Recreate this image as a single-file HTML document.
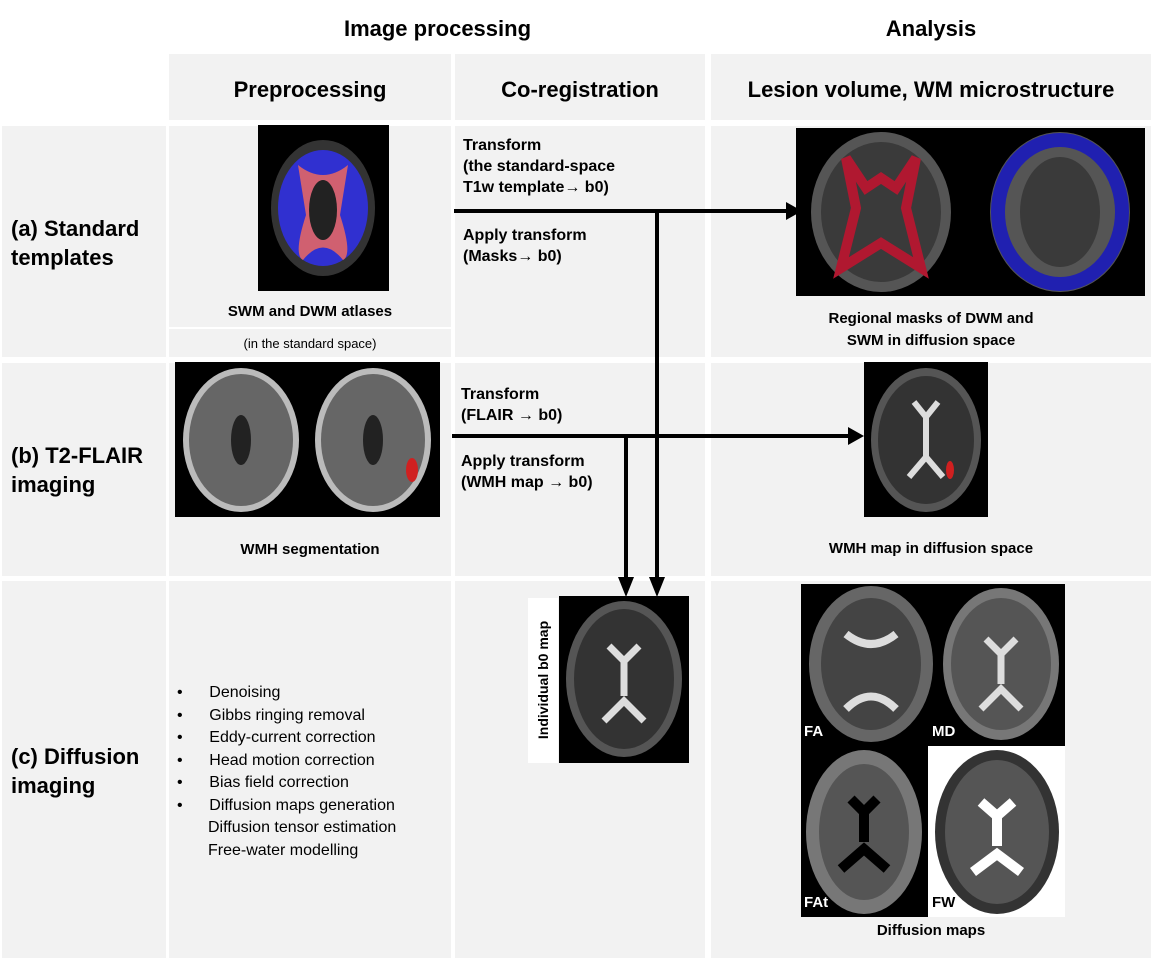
<!DOCTYPE html>
<html><head><meta charset="utf-8"><style>
body{margin:0;width:1158px;height:966px;background:#fff;position:relative;overflow:hidden;font-family:"Liberation Sans",Arial,sans-serif;color:#000}
.c{position:absolute;background:#f2f2f2}
.t{position:absolute;font-weight:bold;white-space:nowrap}
.h{font-size:22px;text-align:center}
.img{position:absolute;background:#000;overflow:hidden}
</style></head><body>
<div class="t h" style="left:170px;width:535px;top:16px">Image processing</div>
<div class="t h" style="left:712px;width:438px;top:16px">Analysis</div>

<div class="c" style="left:169px;top:54px;width:282px;height:66px"></div>
<div class="c" style="left:455px;top:54px;width:250px;height:66px"></div>
<div class="c" style="left:711px;top:54px;width:440px;height:66px"></div>
<div class="t h" style="left:169px;width:282px;top:77px">Preprocessing</div>
<div class="t h" style="left:455px;width:250px;top:77px">Co-registration</div>
<div class="t h" style="left:711px;width:440px;top:77px">Lesion volume, WM microstructure</div>

<div class="c" style="left:2px;top:126px;width:164px;height:231px"></div>
<div class="c" style="left:169px;top:126px;width:282px;height:201px"></div>
<div class="c" style="left:169px;top:329px;width:282px;height:28px"></div>
<div class="c" style="left:455px;top:126px;width:250px;height:231px"></div>
<div class="c" style="left:711px;top:126px;width:440px;height:231px"></div>
<div class="c" style="left:2px;top:363px;width:164px;height:213px"></div>
<div class="c" style="left:169px;top:363px;width:282px;height:213px"></div>
<div class="c" style="left:455px;top:363px;width:250px;height:213px"></div>
<div class="c" style="left:711px;top:363px;width:440px;height:213px"></div>
<div class="c" style="left:2px;top:581px;width:164px;height:377px"></div>
<div class="c" style="left:169px;top:581px;width:282px;height:377px"></div>
<div class="c" style="left:455px;top:581px;width:250px;height:377px"></div>
<div class="c" style="left:711px;top:581px;width:440px;height:377px"></div>

<div class="t" style="left:11px;top:214px;font-size:22px;line-height:29px">(a) Standard<br>templates</div>
<div class="t" style="left:11px;top:441px;font-size:22px;line-height:29px">(b) T2-FLAIR<br>imaging</div>
<div class="t" style="left:11px;top:742px;font-size:22px;line-height:29px">(c) Diffusion<br>imaging</div>

<div class="img" style="left:258px;top:125px;width:131px;height:166px">
<svg width="131" height="166"><ellipse cx="65" cy="83" rx="52" ry="68" fill="#333"/><ellipse cx="65" cy="83" rx="45" ry="58" fill="#3030d0"/><path d="M40 40 Q65 60 90 40 L82 90 Q95 130 85 135 Q65 110 45 135 Q35 130 48 90Z" fill="#d06070"/><ellipse cx="65" cy="85" rx="14" ry="30" fill="#222"/></svg></div>
<div class="t" style="left:169px;width:282px;text-align:center;top:303px;font-size:15px">SWM and DWM atlases</div>
<div style="position:absolute;left:169px;width:282px;text-align:center;top:336px;font-size:13px">(in the standard space)</div>

<div class="t" style="left:463px;top:135px;font-size:16px;line-height:21px">Transform<br>(the standard-space<br>T1w template&#8594; b0)</div>
<div class="t" style="left:463px;top:225px;font-size:16px;line-height:21px">Apply transform<br>(Masks&#8594; b0)</div>

<div class="img" style="left:796px;top:128px;width:349px;height:168px">
<svg width="349" height="168"><ellipse cx="85" cy="84" rx="70" ry="80" fill="#555"/><ellipse cx="85" cy="84" rx="60" ry="70" fill="#3a3a3a"/><path d="M50 30 L70 60 L85 50 L100 60 L120 30 L110 80 L125 140 L85 115 L45 140 L60 80Z" fill="none" stroke="#b01830" stroke-width="10"/>
<ellipse cx="264" cy="84" rx="70" ry="80" fill="#555"/><ellipse cx="264" cy="84" rx="62" ry="72" fill="none" stroke="#2020b0" stroke-width="14"/><ellipse cx="264" cy="84" rx="40" ry="55" fill="#3a3a3a"/></svg></div>
<div class="t" style="left:711px;width:440px;text-align:center;top:308px;font-size:15px;line-height:22px">Regional masks of DWM and<br>SWM in diffusion space</div>

<div class="img" style="left:175px;top:362px;width:265px;height:155px">
<svg width="265" height="155"><ellipse cx="66" cy="78" rx="58" ry="72" fill="#bbb"/><ellipse cx="66" cy="78" rx="52" ry="66" fill="#666"/><ellipse cx="66" cy="78" rx="10" ry="25" fill="#222"/>
<ellipse cx="198" cy="78" rx="58" ry="72" fill="#bbb"/><ellipse cx="198" cy="78" rx="52" ry="66" fill="#666"/><ellipse cx="198" cy="78" rx="10" ry="25" fill="#222"/><ellipse cx="237" cy="108" rx="6" ry="12" fill="#d02020"/></svg></div>
<div class="t" style="left:169px;width:282px;text-align:center;top:541px;font-size:15px">WMH segmentation</div>

<div class="t" style="left:461px;top:384px;font-size:16px;line-height:21px">Transform<br>(FLAIR &#8594; b0)</div>
<div class="t" style="left:461px;top:451px;font-size:16px;line-height:21px">Apply transform<br>(WMH map &#8594; b0)</div>

<div class="img" style="left:864px;top:362px;width:124px;height:155px">
<svg width="124" height="155"><ellipse cx="62" cy="78" rx="55" ry="72" fill="#555"/><ellipse cx="62" cy="78" rx="48" ry="64" fill="#333"/><path d="M50 40 L62 55 L74 40 M62 55 L62 95 M45 115 L62 95 L79 115" stroke="#ddd" stroke-width="6" fill="none"/><ellipse cx="86" cy="108" rx="4" ry="9" fill="#d02020"/></svg></div>
<div class="t" style="left:711px;width:440px;text-align:center;top:540px;font-size:15px">WMH map in diffusion space</div>

<div style="position:absolute;left:177px;top:682px;font-size:16px;line-height:22.5px;white-space:nowrap">
<div>&#8226;&nbsp;&nbsp;&nbsp;&nbsp;&nbsp;&nbsp;Denoising</div>
<div>&#8226;&nbsp;&nbsp;&nbsp;&nbsp;&nbsp;&nbsp;Gibbs ringing removal</div>
<div>&#8226;&nbsp;&nbsp;&nbsp;&nbsp;&nbsp;&nbsp;Eddy-current correction</div>
<div>&#8226;&nbsp;&nbsp;&nbsp;&nbsp;&nbsp;&nbsp;Head motion correction</div>
<div>&#8226;&nbsp;&nbsp;&nbsp;&nbsp;&nbsp;&nbsp;Bias field correction</div>
<div>&#8226;&nbsp;&nbsp;&nbsp;&nbsp;&nbsp;&nbsp;Diffusion maps generation</div>
<div style="padding-left:31px">Diffusion tensor estimation</div>
<div style="padding-left:31px">Free-water modelling</div></div>

<div style="position:absolute;left:528px;top:598px;width:30px;height:165px;background:#fff"></div>
<div class="t" style="left:543px;top:680px;font-size:14px;transform:translate(-50%,-50%) rotate(-90deg)">Individual b0 map</div>
<div class="img" style="left:559px;top:596px;width:130px;height:167px">
<svg width="130" height="167"><ellipse cx="65" cy="83" rx="58" ry="78" fill="#555"/><ellipse cx="65" cy="83" rx="50" ry="70" fill="#333"/><path d="M50 50 L65 65 L80 50 M65 65 L65 100 M45 125 L65 105 L85 125" stroke="#ddd" stroke-width="7" fill="none"/></svg></div>

<div class="img" style="left:801px;top:584px;width:264px;height:333px;background:#000">
<svg width="264" height="333"><ellipse cx="70" cy="80" rx="62" ry="78" fill="#666"/><ellipse cx="70" cy="80" rx="50" ry="66" fill="#444"/><path d="M45 50 Q70 70 95 50 M45 125 Q70 100 95 125" stroke="#ddd" stroke-width="8" fill="none"/>
<ellipse cx="200" cy="80" rx="58" ry="76" fill="#777"/><ellipse cx="200" cy="80" rx="50" ry="66" fill="#555"/><path d="M185 55 L200 70 L215 55 M200 70 L200 100 M180 125 L200 105 L220 125" stroke="#ddd" stroke-width="7" fill="none"/>
<rect x="127" y="162" width="137" height="171" fill="#fff"/>
<ellipse cx="63" cy="248" rx="58" ry="82" fill="#777"/><ellipse cx="63" cy="248" rx="45" ry="68" fill="#555"/><path d="M50 215 L63 228 L76 215 M63 228 L63 258 M40 285 L63 265 L86 285" stroke="#000" stroke-width="10" fill="none"/>
<ellipse cx="196" cy="248" rx="62" ry="82" fill="#333"/><ellipse cx="196" cy="248" rx="52" ry="72" fill="#555"/><path d="M180 218 L196 232 L212 218 M196 232 L196 262 M172 288 L196 270 L220 288" stroke="#fff" stroke-width="10" fill="none"/></svg></div>
<div class="t" style="left:804px;top:723px;font-size:15px;color:#fff">FA</div>
<div class="t" style="left:932px;top:723px;font-size:15px;color:#fff">MD</div>
<div class="t" style="left:804px;top:894px;font-size:15px;color:#fff">FAt</div>
<div class="t" style="left:932px;top:894px;font-size:15px;color:#000">FW</div>
<div class="t" style="left:711px;width:440px;text-align:center;top:922px;font-size:15px">Diffusion maps</div>

<svg style="position:absolute;left:0;top:0" width="1158" height="966">
<g stroke="#000" stroke-width="4" fill="none">
<line x1="454" y1="211" x2="790" y2="211"/>
<line x1="657" y1="211" x2="657" y2="580"/>
<line x1="452" y1="436" x2="850" y2="436"/>
<line x1="626" y1="436" x2="626" y2="580"/>
</g>
<g fill="#000">
<polygon points="786,202 802,211 786,220"/>
<polygon points="848,427 864,436 848,445"/>
<polygon points="618,577 634,577 626,597"/>
<polygon points="649,577 665,577 657,597"/>
</g></svg>
</body></html>
